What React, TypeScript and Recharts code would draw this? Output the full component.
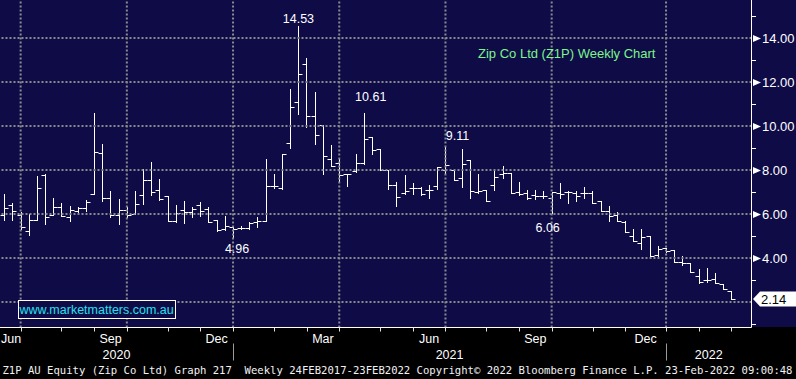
import React from "react";
import { ComposedChart, Bar, XAxis, YAxis, ReferenceLine, ReferenceDot } from "recharts";

// weekly bars, first week = 19 Jun 2020 (index 0), last = week of 23 Feb 2022
const opens = [
  5.97, 6.42, 5.97, 5.23, 5.74, 7.79, 5.97, 6.33, 5.88, 6.15,
  6.29, 6.92, 8.79, 6.74, 5.97, 6.17, 6.02, 6.88, 7.56, 7.08,
  6.82, 5.7, 6.2, 6.1, 6.41, 6.23, 5.71, 5.32, 5.39, 5.35,
  5.35, 5.62, 5.67, 7.29, 7.17, 9.23, 11.08, 12.82, 10.47, 10.05,
  8.5, 8.32, 7.8, 7.97, 8.32, 9.48, 8.97, 8.0, 7.3, 6.95,
  7.2, 7.18, 7.08, 7.26, 7.98, 8.0, 7.65, 8.44, 7.0, 7.08,
  7.3, 7.8, 7.86, 7.0, 6.95, 6.85, 6.8, 6.74, 6.94, 7.02,
  6.94, 6.94, 6.94, 6.59, 6.15, 5.95, 5.65, 5.02, 4.67, 5.0,
  4.14, 4.44, 4.36, 3.8, 3.76, 3.18, 3.0, 3.03, 2.82, 2.52,
];
const highs = [
  6.92, 6.52, 6.09, 6.02, 7.71, 7.83, 6.74, 6.52, 6.38, 6.33,
  6.65, 10.58, 9.17, 7.03, 6.67, 6.33, 7.03, 8.03, 8.35, 7.58,
  6.82, 6.39, 6.59, 6.33, 6.56, 6.3, 5.71, 5.92, 5.47, 5.44,
  5.62, 5.85, 8.5, 7.82, 8.74, 11.68, 14.53, 13.08, 11.53, 10.05,
  9.14, 8.5, 7.8, 8.73, 10.61, 9.48, 8.97, 8.0, 7.45, 7.76,
  7.41, 7.23, 7.33, 8.14, 9.11, 8.0, 8.97, 8.44, 7.83, 7.08,
  8.06, 8.17, 7.86, 7.45, 7.08, 7.08, 7.05, 7.0, 7.39, 7.06,
  7.06, 7.21, 7.05, 6.59, 6.36, 6.08, 5.68, 5.3, 5.3, 5.0,
  4.55, 4.44, 4.36, 4.09, 3.76, 3.48, 3.53, 3.3, 2.82, 2.52,
];
const lows = [
  5.74, 5.74, 5.33, 5.05, 5.74, 5.55, 5.94, 5.91, 5.68, 6.08,
  6.15, 6.92, 6.59, 5.86, 5.55, 5.86, 6.02, 6.45, 6.86, 6.65,
  5.7, 5.64, 5.6, 5.88, 5.92, 5.62, 5.21, 5.27, 4.96, 5.32,
  5.32, 5.39, 5.67, 7.17, 7.14, 8.98, 10.55, 9.94, 9.18, 7.82,
  8.2, 7.47, 7.29, 7.92, 8.27, 8.74, 7.98, 7.12, 6.35, 6.92,
  6.92, 6.85, 6.74, 7.15, 7.83, 7.56, 7.23, 6.74, 6.95, 6.59,
  7.11, 7.65, 6.95, 6.85, 6.7, 6.7, 6.72, 6.06, 6.71, 6.52,
  6.6, 6.74, 6.48, 6.15, 5.7, 5.7, 5.17, 4.79, 4.39, 4.09,
  4.06, 4.29, 3.8, 3.68, 3.35, 2.85, 2.92, 2.85, 2.58, 2.14,
];
const closes = [
  6.29, 6.15, 5.41, 5.71, 7.2, 5.86, 6.33, 5.91, 6.17, 6.29,
  6.56, 8.83, 6.74, 5.97, 6.17, 5.94, 6.47, 7.53, 6.98, 6.68,
  5.7, 6.05, 6.11, 6.23, 6.15, 5.62, 5.27, 5.47, 5.32, 5.35,
  5.59, 5.7, 7.26, 7.29, 8.74, 10.85, 12.36, 10.47, 9.59, 8.65,
  8.2, 7.77, 7.8, 8.32, 9.41, 8.89, 7.98, 7.3, 6.77, 7.05,
  7.2, 6.92, 7.11, 8.14, 8.21, 7.56, 8.29, 7.05, 7.05, 6.59,
  7.68, 7.86, 6.95, 6.92, 6.74, 6.8, 6.8, 7.0, 6.9, 7.02,
  6.83, 6.97, 6.48, 6.15, 5.91, 5.7, 5.17, 4.79, 4.94, 4.09,
  4.39, 4.33, 3.8, 3.76, 3.35, 2.92, 3.0, 2.85, 2.58, 2.14,
];

// first weekly bar of each month
const monthTicks = [2, 7, 11, 15, 20, 24, 28, 33, 37, 41, 46, 50, 54, 59, 63, 67, 72, 76, 81, 85, 89];
const quarterLabels = ["Jun", "Sep", "Dec", "Mar", "Jun", "Sep", "Dec"];
const quarterAt = [0, 13, 26, 39, 52, 65, 78.5];
const quarterGrid = [2, 15, 28, 41, 54, 67, 81];
const yearLabels = ["2020", "2021", "2022"];
const yearBreaks = [28, 81];
const priceGrid = [2, 4, 6, 8, 10, 12, 14];
const minorTicks = [1, 3, 5, 7, 9, 11, 13, 15];
const lastPrice = 2.14;

const notes = [
  { i: 36, side: "high" },
  { i: 44, side: "high" },
  { i: 54, side: "high" },
  { i: 28, side: "low" },
  { i: 67, side: "low" },
];
const NOTE_OFFSET: Record<number, [number, number]> = {
  36: [0, -8],
  44: [7, -16],
  54: [12, -10.5],
  28: [4, 11.5],
  67: [-4, 14.5],
};

const X_DOMAIN: [number, number] = [-0.526, 91.46];
const Y_DOMAIN: [number, number] = [0.841, 15.727];

const NAVY = "#0e0b47";
const GRID = "#8a8a8e";
const FONT = "'Liberation Sans', Arial, sans-serif";

const data = opens.map((o, i) => ({
  i,
  open: o,
  high: highs[i],
  low: lows[i],
  close: closes[i],
  range: [lows[i], highs[i]],
}));

const yearAt = [
  (X_DOMAIN[0] + yearBreaks[0]) / 2,
  (yearBreaks[0] + yearBreaks[1]) / 2,
  (yearBreaks[1] + X_DOMAIN[1]) / 2,
];
const xTicks = Array.from(new Set([...monthTicks, ...quarterAt, ...yearAt])).sort((a, b) => a - b);
const yTicks = [1, lastPrice, 3, 4, 5, 6, 7, 8, 9, 10, 11, 12, 13, 14, 15];

const OhlcBar = (props: any) => {
  const { x, y, width, height, payload } = props;
  if (x == null || !payload) return null;
  const cx = Math.round(x + width / 2) + 0.5;
  const span = payload.high - payload.low;
  const at = (v: number) => Math.round(y + (span ? ((payload.high - v) / span) * height : 0)) + 0.5;
  return (
    <g stroke="#ffffff" strokeWidth={1}>
      <line x1={cx} x2={cx} y1={Math.round(y)} y2={Math.round(y + height) + 1} />
      <line x1={cx - 4} x2={cx} y1={at(payload.open)} y2={at(payload.open)} />
      <line x1={cx} x2={cx + 4} y1={at(payload.close)} y2={at(payload.close)} />
    </g>
  );
};

const XTick = (props: any) => {
  const { x, y, payload } = props;
  const v = payload.value;
  const px = Math.round(x) + 0.5;
  const out: React.ReactNode[] = [];
  if (monthTicks.includes(v)) {
    out.push(<line key="t" x1={px} x2={px} y1={y} y2={y + 4} stroke="#e0e0e0" />);
  }
  if (yearBreaks.includes(v)) {
    out.push(<line key="s" x1={px} x2={px} y1={y + 16} y2={y + 33} stroke="#9a9a9a" />);
  }
  const qi = quarterAt.indexOf(v);
  if (qi >= 0) {
    const left = x - 11 < 0;
    out.push(
      <text key="q" x={left ? 1 : x} y={y + 15} textAnchor={left ? "start" : "middle"} fill="#ffffff" fontSize={12.5} fontFamily={FONT}>
        {quarterLabels[qi]}
      </text>
    );
  }
  const yi = yearAt.indexOf(v);
  if (yi >= 0) {
    out.push(
      <text key="y" x={x} y={y + 31} textAnchor="middle" fill="#ffffff" fontSize={12.5} fontFamily={FONT}>
        {yearLabels[yi]}
      </text>
    );
  }
  return <g>{out}</g>;
};

const YTick = (props: any) => {
  const { x, y, payload } = props;
  const v = payload.value;
  const ax = Math.round(x);
  const py = Math.round(y);
  if (v === lastPrice) {
    return (
      <g>
        <polygon
          points={`${ax + 1},${y} ${ax + 8},${y - 7.5} 796,${y - 7.5} 796,${y + 7.5} ${ax + 8},${y + 7.5}`}
          fill="#ffffff"
        />
        <text x={ax + 9} y={y} dy="0.36em" fill="#000000" fontSize={13} fontFamily={FONT}>
          {v.toFixed(2)}
        </text>
      </g>
    );
  }
  if (minorTicks.includes(v)) {
    return <line x1={ax} x2={ax + 4} y1={py + 0.5} y2={py + 0.5} stroke="#ffffff" />;
  }
  return (
    <g>
      <polygon points={`${ax + 1},${py - 3} ${ax + 9},${py + 0.5} ${ax + 1},${py + 4}`} fill="#ffffff" />
      <text x={ax + 10} y={py} dy="0.36em" fill="#ffffff" fontSize={13} fontFamily={FONT}>
        {v.toFixed(2)}
      </text>
    </g>
  );
};

const NoteText = ({ viewBox, text, dx, dy }: any) => {
  if (!viewBox) return null;
  const cx = viewBox.x + viewBox.width / 2;
  const cy = viewBox.y + viewBox.height / 2;
  return (
    <text x={cx + dx} y={cy + dy} dy="0.36em" textAnchor="middle" fill="#ffffff" fontSize={12.5} fontFamily={FONT}>
      {text}
    </text>
  );
};

export default function App() {
  return (
    <div style={{ position: "absolute", left: 0, top: 0, width: 796, height: 379, background: "#000", overflow: "hidden" }}>
      <div style={{ position: "absolute", left: 0, top: 0, width: 796, height: 327, background: NAVY }} />
      <div style={{ position: "absolute", left: 0, top: 0 }}>
        <ComposedChart width={796} height={379} data={data} margin={{ top: 0, right: 0, bottom: 0, left: 0 }}>
          <XAxis
            dataKey="i"
            type="number"
            domain={X_DOMAIN}
            allowDataOverflow
            ticks={xTicks}
            interval={0}
            height={51.5}
            tickSize={0}
            tickMargin={0}
            tickLine={false}
            axisLine={{ stroke: "#ffffff" }}
            tick={<XTick />}
          />
          <YAxis
            orientation="right"
            type="number"
            domain={Y_DOMAIN}
            allowDataOverflow
            ticks={yTicks}
            interval={0}
            width={44.5}
            tickSize={0}
            tickMargin={0}
            tickLine={false}
            axisLine={{ stroke: "#ffffff" }}
            tick={<YTick />}
          />
          {priceGrid.map((v) => (
            <ReferenceLine key={"h" + v} y={v} stroke={GRID} strokeWidth={2} strokeDasharray="2 2" />
          ))}
          {quarterGrid.map((v) => (
            <ReferenceLine key={"v" + v} x={v} stroke={GRID} strokeWidth={2} strokeDasharray="2 2" />
          ))}
          <Bar dataKey="range" barSize={6} shape={<OhlcBar />} isAnimationActive={false} activeBar={false} />
          {notes.map((n) => {
            const v = n.side === "high" ? highs[n.i] : lows[n.i];
            const [dx, dy] = NOTE_OFFSET[n.i];
            return (
              <ReferenceDot
                key={"n" + n.i}
                x={n.i}
                y={v}
                r={2}
                fill="none"
                stroke="none"
                label={{ content: (p: any) => <NoteText viewBox={p.viewBox} text={v.toFixed(2)} dx={dx} dy={dy} /> }}
              />
            );
          })}
        </ComposedChart>
      </div>
      <svg width={796} height={379} style={{ position: "absolute", left: 0, top: 0, pointerEvents: "none" }}>
        <text x={478} y={57.5} fill="#7cf58a" fontSize={13} fontFamily={FONT}>
          Zip Co Ltd (Z1P) Weekly Chart
        </text>
        <rect x={18.5} y={300.5} width={157} height={18} fill={NAVY} stroke="#ffffff" />
        <text x={19.5} y={313.5} fill="#26e0f0" fontSize={12.5} fontFamily={FONT}>
          www.marketmatters.com.au
        </text>
        <text
          x={2.5}
          y={374}
          fill="#f2f2f2"
          fontSize={10.6}
          fontFamily="'DejaVu Sans Mono', monospace"
          textLength={790}
          lengthAdjust="spacingAndGlyphs"
          style={{ whiteSpace: "pre" }}
          xmlSpace="preserve"
        >
          Z1P AU Equity (Zip Co Ltd) Graph 217  Weekly 24FEB2017-23FEB2022 Copyright© 2022 Bloomberg Finance L.P. 23-Feb-2022 09:00:48
        </text>
      </svg>
    </div>
  );
}
